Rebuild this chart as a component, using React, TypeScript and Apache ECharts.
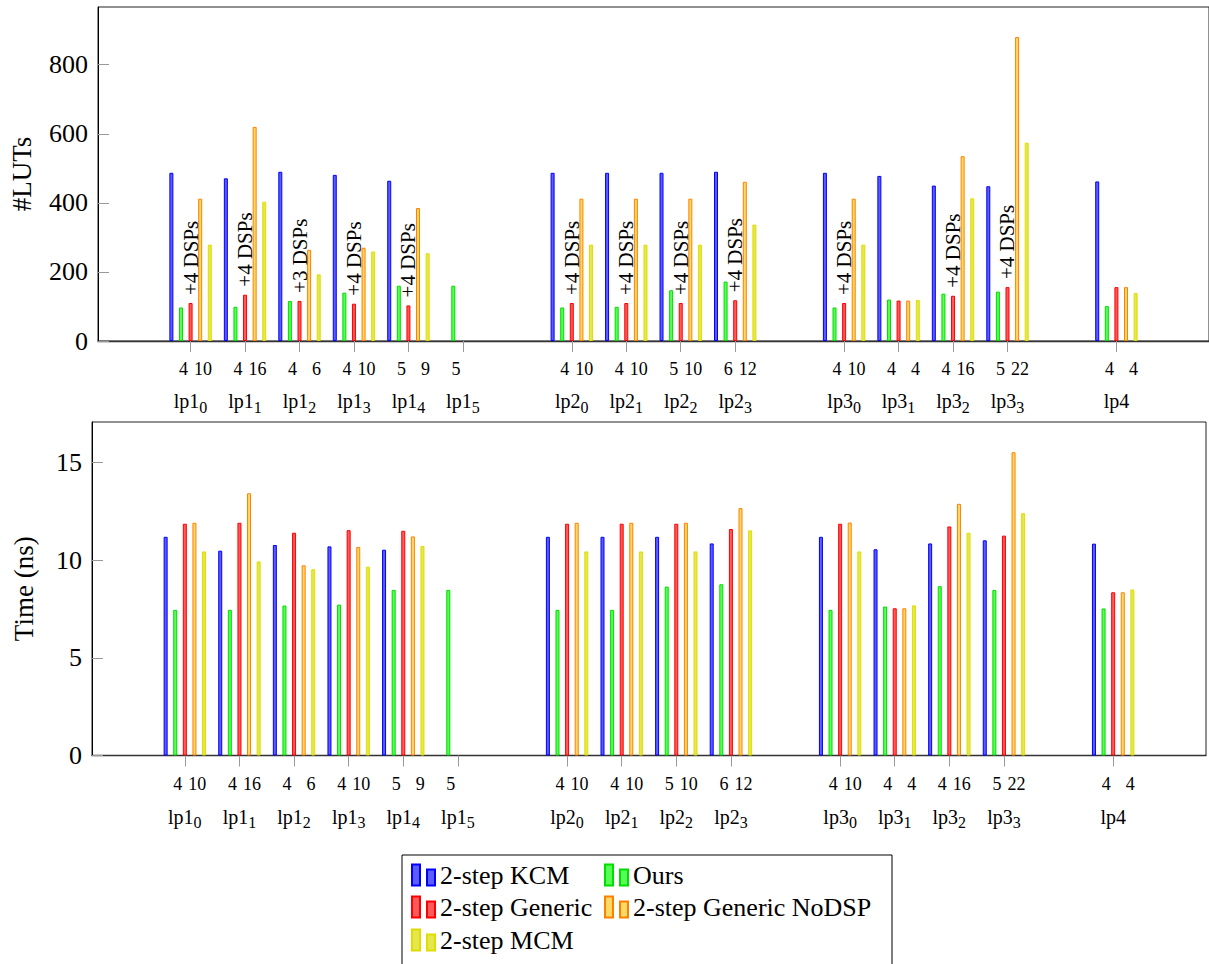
import React, { useEffect, useRef } from "react";
import * as echarts from "echarts";

const FONT = "'Liberation Serif', 'Times New Roman', serif";

// x positions of the groups on the axis (gaps at 6, 11, 16)
const xPositions = [0, 1, 2, 3, 4, 5, 7, 8, 9, 10, 12, 13, 14, 15, 17];
const groupNames = ["lp1", "lp1", "lp1", "lp1", "lp1", "lp1", "lp2", "lp2", "lp2", "lp2", "lp3", "lp3", "lp3", "lp3", "lp4"];
const groupSubs = ["0", "1", "2", "3", "4", "5", "0", "1", "2", "3", "0", "1", "2", "3", ""];
const countA = ["4", "4", "4", "4", "5", "5", "4", "4", "5", "6", "4", "4", "4", "5", "4"];
const countB = ["10", "16", "6", "10", "9", "", "10", "10", "10", "12", "10", "4", "16", "22", "4"];

const seriesNames = ["2-step KCM", "Ours", "2-step Generic", "2-step Generic NoDSP", "2-step MCM"];

// #LUTs
const lutKcm = [487, 471, 490, 481, 464, null, 487, 487, 487, 490, 487, 478, 450, 448, 462];
const lutOurs = [97, 99, 116, 140, 160, 160, 97, 99, 147, 172, 97, 120, 137, 143, 101];
const lutGeneric = [110, 134, 116, 108, 103, null, 110, 110, 110, 118, 110, 117, 131, 156, 156];
const lutNoDsp = [412, 620, 264, 270, 385, null, 412, 412, 412, 461, 412, 117, 535, 880, 156];
const lutMcm = [279, 403, 193, 259, 254, null, 279, 279, 279, 337, 279, 119, 413, 574, 139];
const dspLabels = ["+4 DSPs", "+4 DSPs", "+3 DSPs", "+4 DSPs", "+4 DSPs", "", "+4 DSPs", "+4 DSPs", "+4 DSPs", "+4 DSPs", "+4 DSPs", "", "+4 DSPs", "+4 DSPs", ""];

// Time (ns)
const timeKcm = [11.2, 10.49, 10.78, 10.71, 10.54, null, 11.2, 11.2, 11.2, 10.86, 11.2, 10.56, 10.86, 11.02, 10.85];
const timeOurs = [7.46, 7.46, 7.68, 7.73, 8.48, 8.48, 7.46, 7.46, 8.65, 8.77, 7.46, 7.63, 8.67, 8.48, 7.53];
const timeGeneric = [11.87, 11.92, 11.41, 11.54, 11.51, null, 11.87, 11.87, 11.87, 11.6, 11.87, 7.54, 11.73, 11.26, 8.36];
const timeNoDsp = [11.92, 13.43, 9.74, 10.68, 11.22, null, 11.92, 11.92, 11.92, 12.67, 11.93, 7.54, 12.89, 15.53, 8.36];
const timeMcm = [10.45, 9.94, 9.54, 9.67, 10.73, null, 10.45, 10.45, 10.45, 11.53, 10.45, 7.69, 11.41, 12.41, 8.5];

const lutTicks = [0, 200, 400, 600, 800];
const timeTicks = [0, 5, 10, 15];

const fills = ["#5c5cff", "#55ff55", "#ff5a5a", "#ffd966", "#e6e64d"];
const strokes = ["#0000ff", "#00dd00", "#ff0000", "#ff8000", "#dede00"];

function xLabel(value: number) {
  const i = xPositions.indexOf(Math.round(value));
  if (i < 0) return "";
  const b = countB[i] === "" ? "\u00a0" : countB[i];
  const sub = groupSubs[i] ? `{sub|${groupSubs[i]}}` : "";
  return `{a|${countA[i]}}{b|${b}}\n{nm|${groupNames[i]}}${sub}`;
}

function makeXAxis(gridIndex: number, numLine: number) {
  return {
    type: "value",
    gridIndex,
    min: -1.7,
    max: 18.7,
    splitLine: { show: false },
    axisLine: { show: true, onZero: false, lineStyle: { color: "#333", width: 1.3 } },
    axisTick: { show: true, customValues: xPositions, length: 11, lineStyle: { color: "#999" } },
    axisLabel: {
      customValues: xPositions,
      formatter: xLabel,
      margin: 10,
      color: "#000",
      fontFamily: FONT,
      rich: {
        a: { fontSize: 18, width: 19, align: "right", lineHeight: numLine, fontFamily: FONT, color: "#000" },
        b: { fontSize: 18, width: 24, align: "right", lineHeight: numLine, fontFamily: FONT, color: "#000" },
        nm: { fontSize: 20, lineHeight: 28, fontFamily: FONT, color: "#000" },
        sub: { fontSize: 16, lineHeight: 20, verticalAlign: "bottom", fontFamily: FONT, color: "#000" },
      },
    },
  };
}

function makeYAxis(gridIndex: number, max: number, ticks: number[], name: string, nameGap: number) {
  return {
    type: "value",
    gridIndex,
    min: 0,
    max,
    name,
    nameLocation: "middle",
    nameGap,
    nameRotate: 90,
    nameTextStyle: { fontFamily: FONT, fontSize: 27, color: "#000" },
    splitLine: { show: false },
    axisLine: { show: true, onZero: false, lineStyle: { color: "#000", width: 1 } },
    axisTick: { show: true, inside: true, length: 11, customValues: ticks, lineStyle: { color: "#999" } },
    axisLabel: { customValues: ticks, margin: 10, fontFamily: FONT, fontSize: 26, color: "#000" },
  };
}

function makeSeries(idx: number, values: (number | null)[], gridIndex: number, labels?: string[]) {
  const data: any[] = [];
  values.forEach((v, i) => {
    if (v === null) return;
    const item: any = { value: [xPositions[i], v] };
    if (labels && labels[i]) {
      item.label = {
        show: true,
        formatter: labels[i],
        position: "top",
        rotate: 90,
        align: "left",
        verticalAlign: "middle",
        distance: 8,
        fontFamily: FONT,
        fontSize: 21,
        color: "#000",
      };
    }
    data.push(item);
  });
  return {
    type: "bar",
    name: seriesNames[idx],
    xAxisIndex: gridIndex,
    yAxisIndex: gridIndex,
    barWidth: 4,
    barGap: "140%",
    data,
    itemStyle: { color: fills[idx], borderColor: strokes[idx], borderWidth: 1 },
    emphasis: { disabled: true },
  };
}

const legendIcon = "path://M0 0H8V21H0Z M15 5H23V21H15Z";
const legendSpots = [
  { left: 411, top: 862 },
  { left: 604, top: 862 },
  { left: 411, top: 894 },
  { left: 604, top: 894 },
  { left: 411, top: 927 },
];

export default function App() {
  const ref = useRef<HTMLDivElement>(null);
  useEffect(() => {
    if (!ref.current) return;
    const chart = echarts.init(ref.current, null, { renderer: "svg" });
    const option: any = {
      animation: false,
      backgroundColor: "#fff",
      grid: [
        { left: 96, top: 7, width: 1114, height: 334, show: true, borderColor: "#222", borderWidth: 1, backgroundColor: "transparent" },
        { left: 92, top: 422, width: 1114, height: 333.5, show: true, borderColor: "#222", borderWidth: 1, backgroundColor: "transparent" },
      ],
      xAxis: [makeXAxis(0, 36), makeXAxis(1, 37)],
      yAxis: [
        makeYAxis(0, 967, lutTicks, "#LUTs", 63),
        makeYAxis(1, 17.08, timeTicks, "Time (ns)", 55),
      ],
      legend: seriesNames.map((n, i) => ({
        data: [n],
        left: legendSpots[i].left,
        top: legendSpots[i].top,
        padding: 0,
        itemWidth: 23,
        itemHeight: 21,
        icon: legendIcon,
        selectedMode: false,
        textStyle: { fontFamily: FONT, fontSize: 26, color: "#000", padding: [0, 0, 0, 0] },
      })),
      graphic: [
        {
          type: "rect",
          shape: { x: 402, y: 855, width: 490, height: 120 },
          style: { fill: "none", stroke: "#000", lineWidth: 1 },
          silent: true,
        },
      ],
      series: [
        makeSeries(0, lutKcm, 0),
        makeSeries(1, lutOurs, 0),
        makeSeries(2, lutGeneric, 0, dspLabels),
        makeSeries(3, lutNoDsp, 0),
        makeSeries(4, lutMcm, 0),
        makeSeries(0, timeKcm, 1),
        makeSeries(1, timeOurs, 1),
        makeSeries(2, timeGeneric, 1),
        makeSeries(3, timeNoDsp, 1),
        makeSeries(4, timeMcm, 1),
      ],
    };
    chart.setOption(option);
    return () => chart.dispose();
  }, []);
  return <div ref={ref} style={{ position: "fixed", left: 0, top: 0, width: 1209, height: 964 }} />;
}
